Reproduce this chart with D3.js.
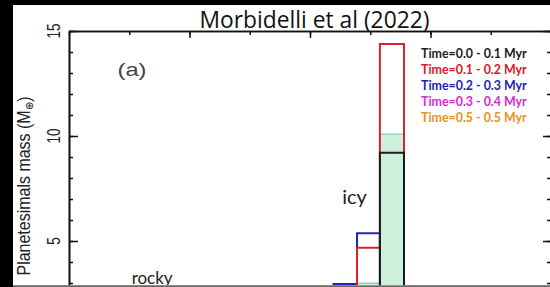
<!DOCTYPE html>
<html>
<head>
<meta charset="utf-8">
<script src="https://cdn.jsdelivr.net/npm/d3@7"></script>
<style>
  html, body { margin: 0; padding: 0; background: #000; }
  svg { display: block; }
</style>
</head>
<body>
<div id="plotSect"></div>
<script>
/* global d3 */

// Chart values //

let binEdges = [4.39, 4.78, 5.16, 5.56];
let legendLabels = ["Time=0.0 - 0.1 Myr", "Time=0.1 - 0.2 Myr", "Time=0.2 - 0.3 Myr",
                    "Time=0.3 - 0.4 Myr", "Time=0.5 - 0.5 Myr"];
let massT0 = [0, 0, 9.2];
let massT1 = [0, 4.68, 14.38];
let massT2 = [2.95, 5.37, 0];
let massT3 = [0.4, 1.8, 2.4];
let massT4 = [0.2, 1.2, 1.9];
let massTotal = [0, 2.99, 10.08];
let yMajorTicks = [5, 10, 15];
let yMinorTicks = d3.range(0, 16);
let xMajorTicks = [2, 4, 6, 8];
let xMinorTicks = d3.range(0, 9);
let annotations = [{ text: "icy", x: 4.74, y: 6.76 }, { text: "rocky", x: 1.38, y: 2.95 }];

let seriesColors = ["#1c1c1c", "#d8202e", "#2424b4", "#d62ccc", "#e8921e"];
let textColors = ["#1c1c1c", "#e0142a", "#1e1eb0", "#d62ccc", "#e8921e"];

// Initial chart setup //

let SVGwidth = 550,
    SVGheight = 287,
    panel = {left: 13, top: 5, right: 550, bottom: 285.5},
    frame = {left: 69, top: 31, right: 551, bottom: 346};

let svg = d3.select("#plotSect").append("svg")
    .attr("width", SVGwidth)
    .attr("height", SVGheight)
    .attr("viewBox", "0 0 " + SVGwidth + " " + SVGheight);

svg.append("defs").append("clipPath")
    .attr("id", "panelClip")
    .append("rect")
    .attr("x", panel.left)
    .attr("y", panel.top)
    .attr("width", panel.right - panel.left)
    .attr("height", panel.bottom - panel.top);

svg.append("rect")
    .attr("x", panel.left)
    .attr("y", panel.top)
    .attr("width", panel.right - panel.left)
    .attr("height", panel.bottom - panel.top)
    .style("fill", "#fff");

let g = svg.append("g").attr("clip-path", "url(#panelClip)");

let xScale = d3.scaleLinear().domain([0, 8]).range([frame.left, frame.right]);
let yScale = d3.scaleLinear().domain([0, 15]).range([frame.bottom, frame.top]);

// histogram outlines //

function stepPoints(values) {
    let pts = [[binEdges[0], 0]];
    values.forEach(function(v, i) {
        pts.push([binEdges[i], v]);
        pts.push([binEdges[i + 1], v]);
    });
    pts.push([binEdges[values.length], 0]);
    return pts;
}

let stepLine = d3.line()
    .x(function(d) { return xScale(d[0]); })
    .y(function(d) { return yScale(d[1]); });

g.append("path")
    .datum(stepPoints(massTotal))
    .attr("d", stepLine)
    .style("fill", "#cdf2dc")
    .style("stroke", "#8fd9a8")
    .style("stroke-width", 1.5);

let histSeries = [massT4, massT3, massT2, massT1, massT0];
histSeries.forEach(function(vals, i) {
    g.append("path")
        .datum(stepPoints(vals))
        .attr("d", stepLine)
        .style("fill", "none")
        .style("stroke", seriesColors[4 - i])
        .style("stroke-width", 2);
});

// axes //

function styleAxis(sel) {
    sel.selectAll("text").remove();
    sel.select(".domain").style("stroke", "#111").style("stroke-width", 1.6);
    sel.selectAll(".tick line").style("stroke", "#111").style("stroke-width", 1.5);
}

g.append("g")
    .attr("transform", "translate(" + frame.left + ",0)")
    .call(d3.axisLeft(yScale).tickValues(yMinorTicks).tickSizeInner(-4).tickSizeOuter(0))
    .call(styleAxis);
g.append("g")
    .attr("transform", "translate(" + frame.left + ",0)")
    .call(d3.axisLeft(yScale).tickValues(yMajorTicks).tickSizeInner(-9).tickSizeOuter(0))
    .call(styleAxis);
g.append("g")
    .attr("transform", "translate(" + frame.right + ",0)")
    .call(d3.axisRight(yScale).tickValues(yMinorTicks).tickSizeInner(-4).tickSizeOuter(0))
    .call(styleAxis);
g.append("g")
    .attr("transform", "translate(" + frame.right + ",0)")
    .call(d3.axisRight(yScale).tickValues(yMajorTicks).tickSizeInner(-8).tickSizeOuter(0))
    .call(styleAxis);
g.append("g")
    .attr("transform", "translate(0," + frame.top + ")")
    .call(d3.axisTop(xScale).tickValues(xMinorTicks).tickSizeInner(-4).tickSizeOuter(0))
    .call(styleAxis);
g.append("g")
    .attr("transform", "translate(0," + frame.top + ")")
    .call(d3.axisTop(xScale).tickValues(xMajorTicks).tickSizeInner(-7).tickSizeOuter(0))
    .call(styleAxis);

// tick labels and axis title, drawn stretched like the source figure //

g.selectAll(".yTickLabel")
    .data(yMajorTicks)
    .enter().append("text")
    .attr("class", "yTickLabel")
    .attr("transform", function(d) { return "translate(60," + yScale(d) + ") scale(1.3,1) rotate(-90)"; })
    .style("text-anchor", "middle")
    .style("font-family", "Liberation Sans, Arial, sans-serif")
    .style("font-size", "13.5px")
    .style("fill", "#222")
    .text(function(d) { return d; });

let yLabel = g.append("text")
    .attr("transform", "translate(30,186) scale(1.1,1) rotate(-90)")
    .style("text-anchor", "middle")
    .style("font-family", "Liberation Sans, Arial, sans-serif")
    .style("font-size", "16px")
    .style("fill", "#222");
yLabel.append("tspan").text("Planetesimals mass (M");
yLabel.append("tspan").attr("dy", 3).style("font-size", "10px").text("\u2295");
yLabel.append("tspan").attr("dy", -3).text(")");

g.append("text")
    .attr("transform", "translate(132,76) scale(1.25,1)")
    .style("text-anchor", "middle")
    .style("font-family", "Liberation Sans, Arial, sans-serif")
    .style("font-size", "19px")
    .style("fill", "#444")
    .text("(a)");

// overlay annotations //

g.selectAll(".note")
    .data(annotations)
    .enter().append("text")
    .attr("class", "note")
    .attr("x", function(d) { return xScale(d.x); })
    .attr("y", function(d) { return yScale(d.y); })
    .style("text-anchor", "middle")
    .style("font-family", "Lato, sans-serif")
    .style("font-size", function(d, i) { return i === 0 ? "20px" : "17px"; })
    .style("fill", "#222")
    .text(function(d) { return d.text; });

svg.append("text")
    .attr("x", 314.5)
    .attr("y", 27.5)
    .style("text-anchor", "middle")
    .style("font-family", "Open Sans, sans-serif")
    .style("font-size", "22.8px")
    .style("fill", "#111")
    .text("Morbidelli et al (2022)");

let legend = svg.selectAll(".legend")
    .data(legendLabels)
    .enter().append("text")
    .attr("class", "legend")
    .attr("x", 421)
    .attr("y", function(d, i) { return 58 + i * 15.9; })
    .style("font-family", "Lato, sans-serif")
    .style("font-weight", "bold")
    .style("font-size", "12.4px")
    .style("fill", function(d, i) { return textColors[i]; })
    .text(function(d) { return d; });

svg.append("line")
    .attr("x1", panel.left)
    .attr("x2", panel.right)
    .attr("y1", panel.bottom + 0.5)
    .attr("y2", panel.bottom + 0.5)
    .style("stroke", "#8c8c8c")
    .style("stroke-width", 1.5);
</script>
</body>
</html>
